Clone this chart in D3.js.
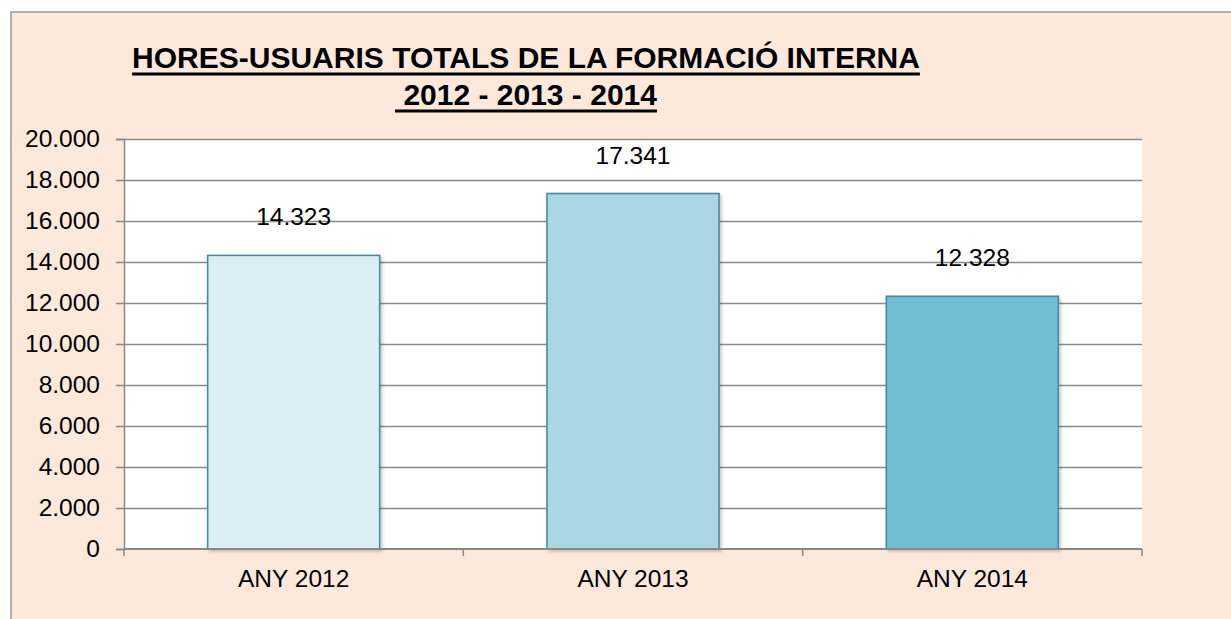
<!DOCTYPE html>
<html>
<head>
<meta charset="utf-8">
<script src="https://cdn.jsdelivr.net/npm/d3@7"></script>
<style>
  html, body { margin: 0; padding: 0; background: #ffffff; }
  svg { display: block; }
  text { font-family: "Liberation Sans", Arial, sans-serif; fill: #000; }
</style>
</head>
<body>
<svg id="chart" width="1231" height="619"></svg>
<script>
const categories = ["ANY 2012", "ANY 2013", "ANY 2014"];
const values = [14323, 17341, 12328];
const labels = ["14.323", "17.341", "12.328"];
const barColors = ["#DAEEF3", "#AAD7E3", "#6FBCD0"];
const yTicks = [0, 2000, 4000, 6000, 8000, 10000, 12000, 14000, 16000, 18000, 20000];
const titleLines = ["HORES-USUARIS TOTALS DE LA FORMACIÓ INTERNA", "\u00A02012 - 2013 - 2014"];

const svg = d3.select("#chart");
const W = 1231, H = 619;

// Outer chart area
svg.append("rect").attr("x", 11).attr("y", 12).attr("width", W).attr("height", H)
  .attr("fill", "#FDE9DB").attr("stroke", "#999").attr("stroke-width", 1.5);

const plot = { left: 124, right: 1142, top: 139, bottom: 549 };

const x = d3.scaleBand().domain(categories).range([plot.left, plot.right]).paddingInner(0.493).paddingOuter(0.2465);
const xBand = d3.scaleBand().domain(categories).range([plot.left, plot.right]);
const y = d3.scaleLinear().domain([0, 20000]).range([plot.bottom, plot.top]);

// plot area
svg.append("rect").attr("x", plot.left).attr("y", plot.top)
  .attr("width", plot.right - plot.left).attr("height", plot.bottom - plot.top).attr("fill", "#fff");

const fmt = d => d3.format(",")(d).replace(/,/g, ".");

// gridlines + y axis
const yAxis = d3.axisLeft(y).tickValues(yTicks).tickFormat(fmt).tickSize(8).tickPadding(16);
const gy = svg.append("g").attr("transform", `translate(${plot.left},0)`).call(yAxis);
gy.select(".domain").attr("stroke", "#888").attr("stroke-width", 1.5);
gy.selectAll(".tick line").attr("stroke", "#888").attr("stroke-width", 1.5);
gy.selectAll(".tick text").attr("font-size", "24.5px").attr("fill", "#000")
  .style("font-family", '"Liberation Sans", Arial, sans-serif');

svg.append("g").selectAll("line").data(yTicks.filter(d => d > 0)).join("line")
  .attr("x1", plot.left).attr("x2", plot.right)
  .attr("y1", d => Math.round(y(d)) + 0.5).attr("y2", d => Math.round(y(d)) + 0.5)
  .attr("stroke", "#8a8a8a").attr("stroke-width", 1.5);

// shadow filter
const defs = svg.append("defs");
const f = defs.append("filter").attr("id", "sh").attr("x", "-10%").attr("y", "-10%").attr("width", "130%").attr("height", "130%");
f.append("feDropShadow").attr("dx", 2).attr("dy", 2).attr("stdDeviation", 1.5)
  .attr("flood-color", "#000").attr("flood-opacity", 0.2);

// bars
svg.append("g").selectAll("rect").data(values).join("rect")
  .attr("x", (d, i) => x(categories[i]))
  .attr("y", d => y(d))
  .attr("width", x.bandwidth())
  .attr("height", d => y(0) - y(d))
  .attr("fill", (d, i) => barColors[i])
  .attr("stroke", "#478BA0").attr("stroke-width", 1.6)
  .attr("filter", "url(#sh)");

// x axis
const xAxis = d3.axisBottom(xBand).tickSize(0).tickPadding(0).tickFormat(d => d);
const gx = svg.append("g").attr("transform", `translate(0,${plot.bottom})`).call(xAxis);
gx.select(".domain").remove();
gx.selectAll(".tick text").remove();
svg.append("line").attr("x1", plot.left).attr("x2", plot.right)
  .attr("y1", plot.bottom).attr("y2", plot.bottom).attr("stroke", "#888").attr("stroke-width", 2);
const bounds = [plot.left].concat(categories.map(c => xBand(c) + xBand.bandwidth()));
svg.append("g").selectAll("line").data(bounds).join("line")
  .attr("x1", d => d).attr("x2", d => d).attr("y1", plot.bottom).attr("y2", plot.bottom + 7)
  .attr("stroke", "#888").attr("stroke-width", 1.5);
svg.append("g").selectAll("text").data(categories).join("text")
  .attr("x", d => xBand(d) + xBand.bandwidth() / 2)
  .attr("y", 587)
  .attr("text-anchor", "middle").attr("font-size", "24.5px")
  .text(d => d);

// data labels
svg.append("g").selectAll("text").data(values).join("text")
  .attr("x", (d, i) => x(categories[i]) + x.bandwidth() / 2)
  .attr("y", d => y(d) - 30)
  .attr("text-anchor", "middle").attr("font-size", "24.5px")
  .text((d, i) => labels[i]);

// title
const tl = svg.append("g");
const baselines = [68, 105];
tl.selectAll("text").data(titleLines).join("text")
  .attr("x", 526)
  .attr("y", (d, i) => baselines[i])
  .attr("text-anchor", "middle")
  .attr("font-size", "30px").attr("font-weight", "bold")
  .text(d => d)
  .each(function(d, i) {
    const w = this.getComputedTextLength();
    tl.append("line")
      .attr("x1", 526 - w / 2).attr("x2", 526 + w / 2)
      .attr("y1", baselines[i] + 6).attr("y2", baselines[i] + 6)
      .attr("stroke", "#000").attr("stroke-width", 3);
  });
</script>
</body>
</html>
